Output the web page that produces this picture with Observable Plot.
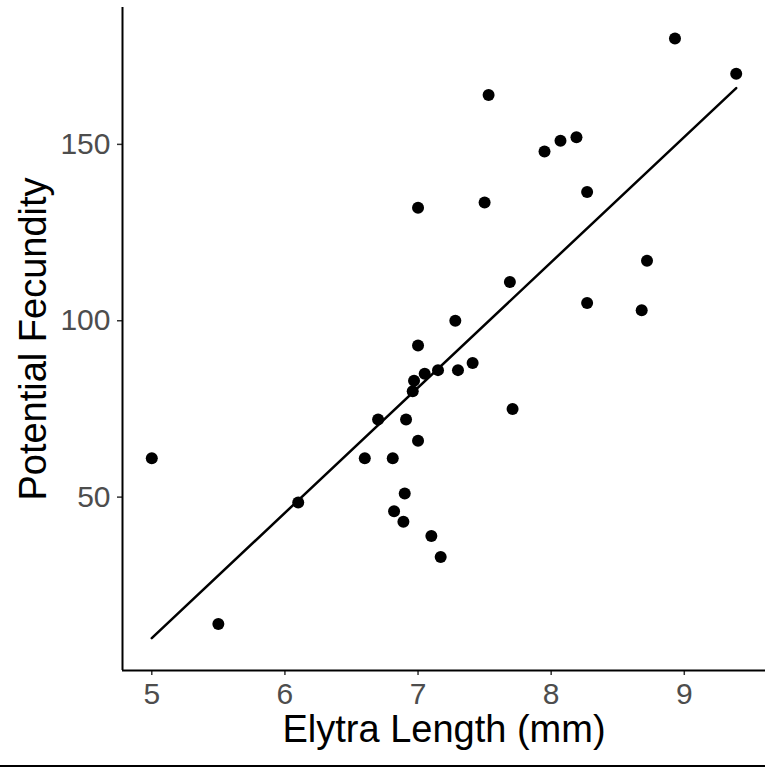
<!DOCTYPE html>
<html>
<head>
<meta charset="utf-8">
<script src="https://cdn.jsdelivr.net/npm/d3@7"></script>
<script src="https://cdn.jsdelivr.net/npm/@observablehq/plot@0.6"></script>
<style>
  html, body { margin: 0; padding: 0; background: #fff; }
  #chart svg { display: block; font-family: "Liberation Sans", Arial, Helvetica, sans-serif; }
  #rule { width: 765px; height: 2px; background: #000; }
</style>
</head>
<body>
<div id="chart"></div>
<div id="rule"></div>
<script>
// Elytra length (mm)
const elytraLength = [5.0, 5.5, 6.1, 6.6, 6.7, 6.81, 6.82, 6.9, 6.89, 6.91, 6.96, 6.97, 7.0, 7.0, 7.0, 7.05, 7.1, 7.15, 7.17, 7.28, 7.3, 7.41, 7.5, 7.53, 7.69, 7.71, 7.95, 8.07, 8.19, 8.27, 8.27, 8.68, 8.72, 8.93, 9.39];
// Potential fecundity
const fecundity = [61, 14, 48.5, 61, 72, 61, 46, 51, 43, 72, 80, 83, 93, 66, 132, 85, 39, 86, 33, 100, 86, 88, 133.5, 164, 111, 75, 148, 151, 152, 136.5, 105, 103, 117, 180, 170];

const xTicks = [5, 6, 7, 8, 9];
const yTicks = [50, 100, 150];
const xDomain = [4.78, 9.61];
const yDomain = [0.85, 188.8];
const xTitle = "Elytra Length (mm)";
const yTitle = "Potential Fecundity";

const data = elytraLength.map((x, i) => ({x, y: fecundity[i]}));

const chart = Plot.plot({
  width: 765,
  height: 765,
  marginLeft: 122,
  marginRight: 0,
  marginTop: 7,
  marginBottom: 95,
  style: {fontFamily: '"Liberation Sans", Arial, Helvetica, sans-serif', background: "#fff"},
  x: {domain: xDomain},
  y: {domain: yDomain},
  marks: [
    Plot.axisX({ticks: xTicks, tickFormat: d3.format("d"), tickSize: 5, tickPadding: 7, fontSize: 30, stroke: "#333", fill: "#4d4d4d", strokeWidth: 1.5, label: null}),
    Plot.axisY({ticks: yTicks, tickFormat: d3.format("d"), tickSize: 5, tickPadding: 7, fontSize: 30, stroke: "#333", fill: "#4d4d4d", strokeWidth: 1.5, label: null}),
    Plot.ruleY([yDomain[0]], {stroke: "#000", strokeWidth: 2}),
    Plot.ruleX([xDomain[0]], {stroke: "#000", strokeWidth: 2}),
    Plot.dot(data, {x: "x", y: "y", r: 6, fill: "#000", stroke: null}),
    Plot.linearRegressionY(data, {x: "x", y: "y", stroke: "#000", strokeWidth: 2.5, ci: 0}),
    Plot.text([xTitle], {frameAnchor: "bottom", dy: 71, fontSize: 38, fill: "#000"}),
    Plot.text([yTitle], {frameAnchor: "left", textAnchor: "middle", dx: -89, rotate: -90, fontSize: 38, fill: "#000"})
  ]
});
document.getElementById("chart").appendChild(chart);
</script>
</body>
</html>
